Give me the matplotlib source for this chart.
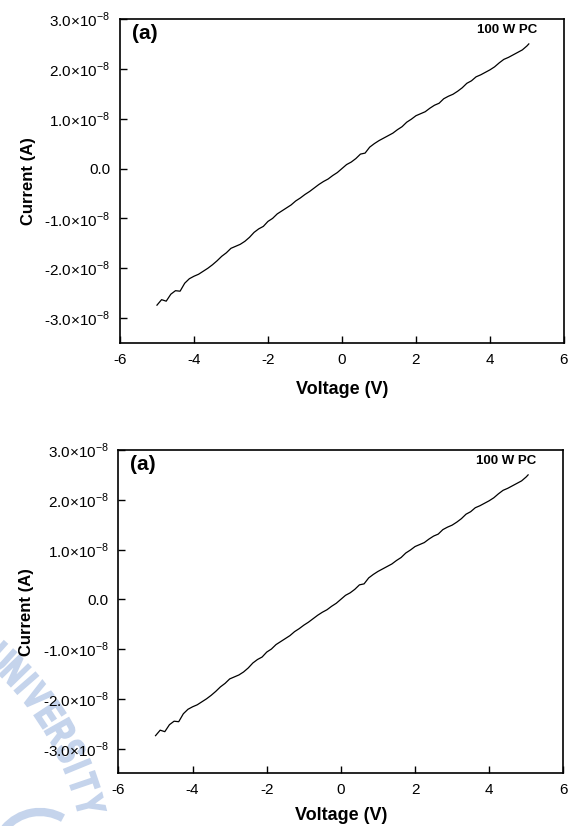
import numpy as np
import matplotlib
matplotlib.use('Agg')
import matplotlib.pyplot as plt
import matplotlib.transforms as mtransforms
from matplotlib.ticker import FuncFormatter, FixedLocator
from matplotlib.textpath import TextPath
from matplotlib.patches import PathPatch, Arc
from matplotlib.font_manager import FontProperties

plt.rcParams['font.family'] = ['Liberation Sans', 'DejaVu Sans']
plt.rcParams['mathtext.fontset'] = 'custom'
plt.rcParams['mathtext.rm'] = 'Liberation Sans'
plt.rcParams['axes.unicode_minus'] = False

# I-V sweep (current in units of 1e-8 A)
voltage = [-5.000, -4.875, -4.750, -4.625, -4.500, -4.375, -4.250, -4.125,
           -4.000, -3.875, -3.750, -3.625, -3.500, -3.375, -3.250, -3.125,
           -3.000, -2.875, -2.750, -2.625, -2.500, -2.375, -2.250, -2.125,
           -2.000, -1.875, -1.750, -1.625, -1.500, -1.375, -1.250, -1.125,
           -1.000, -0.875, -0.750, -0.625, -0.500, -0.375, -0.250, -0.125,
           0.000, 0.125, 0.250, 0.375, 0.500, 0.625, 0.750, 0.875,
           1.000, 1.125, 1.250, 1.375, 1.500, 1.625, 1.750, 1.875,
           2.000, 2.125, 2.250, 2.375, 2.500, 2.625, 2.750, 2.875,
           3.000, 3.125, 3.250, 3.375, 3.500, 3.625, 3.750, 3.875,
           4.000, 4.125, 4.250, 4.375, 4.500, 4.625, 4.750, 4.875,
           5.000, 5.050]
current_e8 = [-2.74, -2.63, -2.66, -2.52, -2.45, -2.46, -2.30, -2.21,
              -2.16, -2.12, -2.06, -2.00, -1.93, -1.85, -1.76, -1.69,
              -1.60, -1.56, -1.52, -1.46, -1.38, -1.28, -1.21, -1.16,
              -1.06, -1.00, -0.91, -0.85, -0.79, -0.73, -0.65, -0.59,
              -0.52, -0.46, -0.39, -0.32, -0.26, -0.21, -0.14, -0.08,
              0.00, 0.08, 0.13, 0.20, 0.29, 0.31, 0.43, 0.50,
              0.56, 0.61, 0.66, 0.71, 0.78, 0.84, 0.93, 0.99,
              1.06, 1.10, 1.14, 1.21, 1.27, 1.31, 1.40, 1.45,
              1.49, 1.55, 1.62, 1.71, 1.76, 1.84, 1.88, 1.93,
              1.98, 2.04, 2.12, 2.19, 2.23, 2.28, 2.33, 2.38,
              2.46, 2.50]
current = np.array(current_e8) * 1e-8

xticks = [-6, -4, -2, 0, 2, 4, 6]
yticks = [-3e-8, -2e-8, -1e-8, 0.0, 1e-8, 2e-8, 3e-8]
panel_tag = '(a)'
sample_tag = '100 W PC'


def yfmt(v, pos):
    m = v / 1e-8
    if abs(m) < 1e-6:
        return '0.0'
    return '%.1f' % m + r'$\times$10$^{-8}$'


def xfmt(v, pos):
    return '%d' % v


fig = plt.figure(figsize=(5.74, 8.26), dpi=100)
ax1 = fig.add_axes([0.209, 0.5847, 0.7735, 0.3923])
ax2 = fig.add_axes([0.2064, 0.0636, 0.775, 0.3916])

for ax, xpad in ((ax1, 10), (ax2, 7)):
    ax.plot(voltage, current, color='black', lw=0.9)
    ax.set_xlim(-6, 6)
    ax.set_ylim(-3.5e-8, 3.0e-8)
    ax.xaxis.set_major_locator(FixedLocator(xticks))
    ax.yaxis.set_major_locator(FixedLocator(yticks))
    ax.xaxis.set_major_formatter(FuncFormatter(xfmt))
    ax.yaxis.set_major_formatter(FuncFormatter(yfmt))
    ax.tick_params(direction='in', length=5, width=1, top=False, right=False,
                   labelsize=11, pad=7)
    for sp in ax.spines.values():
        sp.set_linewidth(1.2)
    ax.set_xlabel('Voltage (V)', fontsize=13, fontweight='bold', labelpad=xpad)
    ax.set_ylabel('Current (A)', fontsize=12, fontweight='bold', labelpad=6)
    ax.text(0.027, 0.985, panel_tag, transform=ax.transAxes, fontsize=15,
            fontweight='bold', va='top', ha='left')
    ax.text(0.94, 0.985, sample_tag, transform=ax.transAxes, fontsize=9.5,
            fontweight='bold', va='top', ha='right')

# faint university seal in the lower left corner of the scan
px = mtransforms.Affine2D().scale(1 / 574, 1 / 826) + fig.transFigure
seal_col = '#c5d4ec'
seal_letters = 'UNIVERSITY'
seal_angles = [48, 44.2, 41, 37.8, 33.5, 29.5, 25.5, 22.3, 18.8, 14.5]
cx0, cy0, rad = -200, -54, 300
fp = FontProperties(family='Liberation Sans', weight='bold')
for ch, ang in zip(seal_letters, seal_angles):
    tp = TextPath((0, 0), ch, size=44, prop=fp)
    bb = tp.get_extents()
    a = np.radians(ang)
    tr = (mtransforms.Affine2D()
          .translate(-(bb.x0 + bb.x1) / 2, -(bb.y0 + bb.y1) / 2)
          .scale(0.62, 0.9)
          .rotate_deg(ang - 90)
          .translate(cx0 + rad * np.cos(a), cy0 + rad * np.sin(a)))
    fig.add_artist(PathPatch(tr.transform_path(tp), fc=seal_col, ec=seal_col,
                             lw=1.5, transform=px, zorder=-1))
fig.add_artist(Arc((40, -32), 92, 92, theta1=60, theta2=140, lw=6,
                   color=seal_col, transform=px, zorder=-1))

fig.savefig('out.png', dpi=100)
